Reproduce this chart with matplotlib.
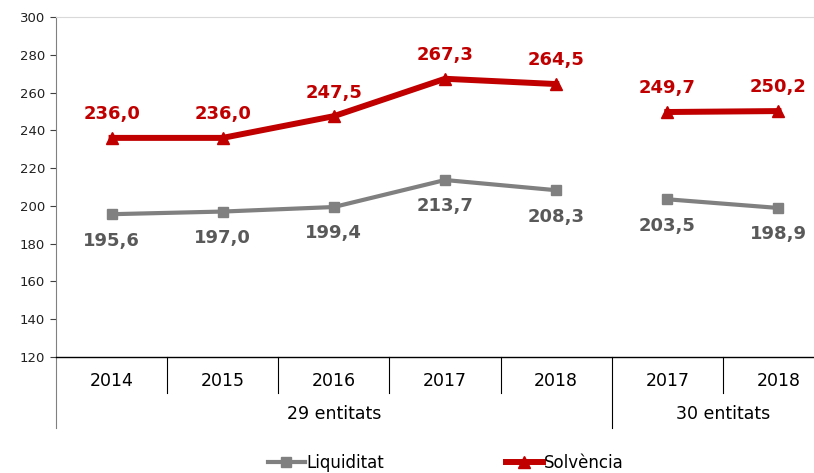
import numpy as np
import matplotlib
matplotlib.use("Agg")
import matplotlib.pyplot as plt
import matplotlib.transforms as mtransforms

years = ["2014", "2015", "2016", "2017", "2018", "2017", "2018"]
groups = ["29 entitats", "30 entitats"]
group_sizes = [5, 2]
liquiditat = [195.6, 197.0, 199.4, 213.7, 208.3, 203.5, 198.9]
solvencia = [236.0, 236.0, 247.5, 267.3, 264.5, 249.7, 250.2]
yticks = [120, 140, 160, 180, 200, 220, 240, 260, 280, 300]

RED = "#C00000"
GRAY = "#808080"
GRAYTXT = "#595959"

plt.rcParams['font.family'] = ['DejaVu Sans']
fig = plt.figure(figsize=(8.14, 4.73), dpi=100)
W, H = 814, 473
left, right, top, bottom = 56, 834, 17, 357
ax = fig.add_axes([left / W, 1 - bottom / H, (right - left) / W, (bottom - top) / H])

x = np.arange(len(years))
starts = np.cumsum([0] + group_sizes[:-1])
for gi, (s, n) in enumerate(zip(starts, group_sizes)):
    xs = x[s:s + n]
    ax.plot(xs, liquiditat[s:s + n], color=GRAY, lw=3.0, marker="s", ms=7,
            label="Liquiditat" if gi == 0 else None, zorder=3)
    ax.plot(xs, solvencia[s:s + n], color=RED, lw=4.3, marker="^", ms=9,
            label="Solvència" if gi == 0 else None, zorder=3)

for xi, v in zip(x, solvencia):
    ax.annotate(f"{v:.1f}".replace(".", ","), (xi, v), xytext=(0, 17),
                textcoords="offset points", ha="center", va="center",
                color=RED, fontsize=13, fontweight="bold")
for xi, v in zip(x, liquiditat):
    ax.annotate(f"{v:.1f}".replace(".", ","), (xi, v), xytext=(0, -19),
                textcoords="offset points", ha="center", va="center",
                color=GRAYTXT, fontsize=13, fontweight="bold")

ax.set_xlim(-0.5, len(years) - 0.5)
ax.set_ylim(120, 300)
ax.set_yticks(yticks)
ax.tick_params(axis="y", labelsize=9.5, length=4, color="#404040", labelcolor="#202020", pad=4)
ax.set_xticks([])
ax.spines["right"].set_visible(False)
ax.spines["top"].set_color("#d9d9d9")
ax.spines["left"].set_color("#808080")
ax.spines["bottom"].set_color("black")
ax.spines["bottom"].set_linewidth(1.0)

trans = mtransforms.blended_transform_factory(ax.transData, ax.transAxes)
ph = bottom - top
y_sep = -(393 - bottom) / ph
y_grp = -(428 - bottom) / ph
y_year = -(381 - bottom) / ph
y_glab = -(414 - bottom) / ph

group_bounds = set([-0.5] + [s + n - 0.5 for s, n in zip(starts, group_sizes)])
for b in np.arange(-0.5, len(years), 1.0):
    yb = y_grp if b in group_bounds else y_sep
    col = "#808080" if b == -0.5 else "black"
    ax.plot([b, b], [0, yb], transform=trans, color=col, lw=0.8, clip_on=False)

for xi, lab in zip(x, years):
    ax.text(xi, y_year, lab, transform=trans, ha="center", va="center", fontsize=12.5)
for (s, n), g in zip(zip(starts, group_sizes), groups):
    ax.text(s + (n - 1) / 2, y_glab, g, transform=trans, ha="center", va="center", fontsize=12.5)

fig.legend(loc="center", bbox_to_anchor=(0.5 * (267 + 625) / W, 1 - 463 / H), ncol=2,
           frameon=False, fontsize=12, handlelength=2.2, handletextpad=0.1,
           columnspacing=7.3)

fig.savefig("out.png", dpi=100)
